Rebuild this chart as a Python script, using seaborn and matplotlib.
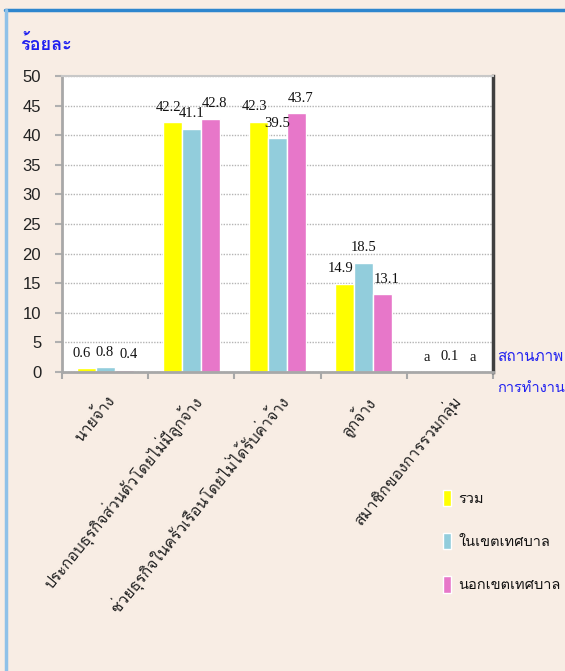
import matplotlib
matplotlib.use("Agg")
import matplotlib.pyplot as plt
import seaborn as sns
import pandas as pd
from matplotlib import font_manager
from matplotlib.lines import Line2D

# หา font ที่มีตัวอักษรไทย
def find_thai_font():
    try:
        from fontTools.ttLib import TTFont
    except Exception:
        return None
    for f in font_manager.fontManager.ttflist:
        try:
            tt = TTFont(f.fname, fontNumber=0, lazy=True)
            cmap = tt.getBestCmap()
            if cmap and 0x0E01 in cmap and 0x0E49 in cmap:
                return f.name
        except Exception:
            pass
    return None

#%% ข้อมูล
สถานภาพ = ['นายจ้าง',
           'ประกอบธุรกิจส่วนตัวโดยไม่มีลูกจ้าง',
           'ช่วยธุรกิจในครัวเรือนโดยไม่ได้รับค่าจ้าง',
           'ลูกจ้าง',
           'สมาชิกของการรวมกลุ่ม']
กลุ่ม = ['รวม', 'ในเขตเทศบาล', 'นอกเขตเทศบาล']
รวม = [0.6, 42.2, 42.3, 14.9, 0.0]
ในเขต = [0.8, 41.1, 39.5, 18.5, 0.1]
นอกเขต = [0.4, 42.8, 43.7, 13.1, 0.0]
ป้าย_รวม = ['0.6', '42.2', '42.3', '14.9', 'a']
ป้าย_ในเขต = ['0.8', '41.1', '39.5', '18.5', '0.1']
ป้าย_นอกเขต = ['0.4', '42.8', '43.7', '13.1', 'a']
สี = ['#FFFF00', '#92CDDC', '#E777C9']

df = pd.DataFrame({
    'สถานภาพ': สถานภาพ * 3,
    'กลุ่ม': [g for g in กลุ่ม for _ in สถานภาพ],
    'ร้อยละ': รวม + ในเขต + นอกเขต,
})

thai = find_thai_font()
fam = [thai, 'DejaVu Sans'] if thai else ['DejaVu Sans']

sns.set_style('white')
plt.rcParams['font.family'] = fam

bg = '#F8EDE4'
fig = plt.figure(figsize=(5.65, 6.71), dpi=100, facecolor=bg)
ax = fig.add_axes([0.1097, 0.4456, 0.7628, 0.441])
ax.set_facecolor('white')

sns.barplot(data=df, x='สถานภาพ', y='ร้อยละ', hue='กลุ่ม', palette=สี,
            width=0.66, ax=ax, legend=True, saturation=1)

# ป้ายค่าบนแท่ง (เลื่อนซ้าย/ขวาเล็กน้อยไม่ให้ชนกัน)
for cont, lab, dx in zip(ax.containers, [ป้าย_รวม, ป้าย_ในเขต, ป้าย_นอกเขต], [-3, 0, 3]):
    anns = ax.bar_label(cont, labels=lab, padding=6, fontsize=10.5,
                        family=['Liberation Serif', 'DejaVu Serif'], color='#111111')
    for a in anns:
        a.xyann = (dx, a.xyann[1])

ax.set_ylim(0, 50)
ax.set_yticks(range(0, 51, 5))
ax.set_xlim(-0.5, 4.5)
ax.yaxis.grid(True, color='#B4B4B4', linestyle=(0, (1, 1)), linewidth=1)
ax.set_axisbelow(True)
ax.set_xlabel('')
ax.set_ylabel('')

# ขีดแบ่งกลุ่มแกน x
ax.set_xticks([i + 0.5 for i in range(-1, 5)], minor=True)
ax.set_xticks(range(5))
ax.set_xticklabels(สถานภาพ, rotation=51, ha='right', rotation_mode='anchor',
                   fontsize=11.3, color='#222222')
ax.tick_params(axis='x', which='major', length=0, pad=14)
ax.tick_params(axis='x', which='minor', length=5, color='#A8A8A8', width=1.5,
               bottom=True)
ax.tick_params(axis='y', length=5, color='#B0B0B0', width=1.5, left=True,
               labelsize=12, pad=10)
for t in ax.get_yticklabels():
    t.set_color('#222222')
    t.set_fontfamily(['Liberation Sans', 'DejaVu Sans'])

for s in ['left', 'bottom']:
    ax.spines[s].set_color('#A8A8A8')
    ax.spines[s].set_linewidth(2)
ax.spines['top'].set_color('#C8C8C8')
ax.spines['top'].set_linewidth(1.5)
ax.spines['right'].set_color('#404040')
ax.spines['right'].set_linewidth(2.5)

# legend
leg = ax.legend(loc='upper left', bbox_to_anchor=(0.76, 0.29),
                bbox_transform=fig.transFigure, frameon=False,
                handlelength=0.6, handleheight=1.4, handletextpad=0.5,
                labelspacing=1.8, fontsize=10.5)
for t in leg.get_texts():
    t.set_color('#111111')

# ชื่อแกน
fig.text(20 / 565, 1 - 45 / 671, 'ร้อยละ', color='#2020F0', fontsize=13,
         fontweight='bold', va='center', ha='left')
fig.text(497 / 565, 1 - 357 / 671, 'สถานภาพ', color='#2020F0', fontsize=11,
         va='center', ha='left')
fig.text(497 / 565, 1 - 388 / 671, 'การทำงาน', color='#2020F0', fontsize=10.5,
         va='center', ha='left')

# กรอบสีฟ้า
fig.add_artist(Line2D([5 / 565, 1], [1 - 10 / 671, 1 - 10 / 671],
                      color='#2E86CE', linewidth=2.5, transform=fig.transFigure))
fig.add_artist(Line2D([6 / 565, 6 / 565], [0, 1 - 10 / 671],
                      color='#8FC1E8', linewidth=2.5, transform=fig.transFigure))

fig.savefig('out.png', dpi=100, facecolor=bg)
